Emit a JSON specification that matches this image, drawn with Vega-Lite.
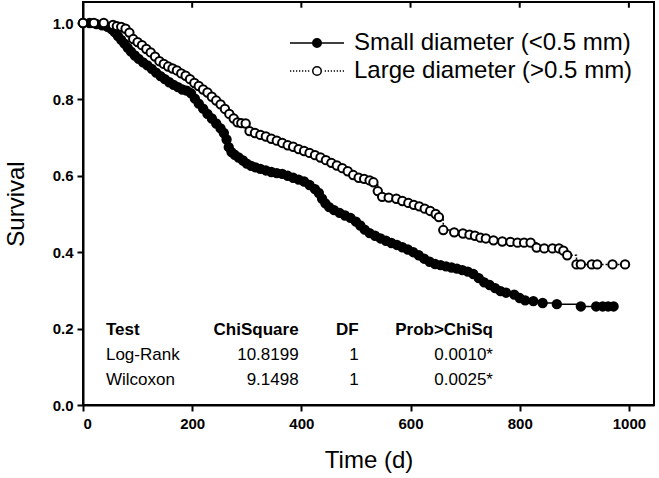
{
  "$schema": "https://vega.github.io/schema/vega-lite/v6.json",
  "width": 571,
  "height": 403,
  "autosize": {"type": "none"},
  "padding": {"left": 83, "top": 2, "right": 5, "bottom": 73},
  "background": "white",
  "config": {
    "view": {"stroke": "black", "strokeWidth": 2},
    "font": "Liberation Sans",
    "axis": {
      "grid": false,
      "domainColor": "black",
      "domainWidth": 2,
      "tickColor": "black",
      "tickWidth": 2,
      "tickSize": 6,
      "labelFont": "Liberation Sans",
      "labelFontWeight": "bold",
      "labelFontSize": 15,
      "labelColor": "black",
      "titleFont": "Liberation Sans",
      "titleFontWeight": "normal",
      "titleFontSize": 24,
      "titleColor": "black"
    }
  },
  "datasets": {
    "km": [
      {"group":"S","time":0,"surv":1.0},{"group":"S","time":12,"surv":1.0},{"group":"S","time":25,"surv":0.997},{"group":"S","time":35,"surv":0.994},{"group":"S","time":45,"surv":0.99},{"group":"S","time":52,"surv":0.984},{"group":"S","time":58,"surv":0.976},{"group":"S","time":64,"surv":0.966},{"group":"S","time":70,"surv":0.956},{"group":"S","time":76,"surv":0.946},{"group":"S","time":82,"surv":0.935},{"group":"S","time":88,"surv":0.925},{"group":"S","time":95,"surv":0.915},{"group":"S","time":102,"surv":0.906},{"group":"S","time":110,"surv":0.897},{"group":"S","time":118,"surv":0.889},{"group":"S","time":126,"surv":0.88},{"group":"S","time":134,"surv":0.87},{"group":"S","time":142,"surv":0.861},{"group":"S","time":150,"surv":0.853},{"group":"S","time":158,"surv":0.845},{"group":"S","time":166,"surv":0.838},{"group":"S","time":174,"surv":0.832},{"group":"S","time":182,"surv":0.826},{"group":"S","time":190,"surv":0.823},{"group":"S","time":198,"surv":0.816},{"group":"S","time":205,"surv":0.802},{"group":"S","time":212,"surv":0.789},{"group":"S","time":220,"surv":0.776},{"group":"S","time":228,"surv":0.762},{"group":"S","time":236,"surv":0.75},{"group":"S","time":244,"surv":0.737},{"group":"S","time":252,"surv":0.724},{"group":"S","time":258,"surv":0.712},{"group":"S","time":263,"surv":0.695},{"group":"S","time":267,"surv":0.675},{"group":"S","time":272,"surv":0.662},{"group":"S","time":278,"surv":0.655},{"group":"S","time":285,"surv":0.648},{"group":"S","time":293,"surv":0.64},{"group":"S","time":300,"surv":0.632},{"group":"S","time":308,"surv":0.626},{"group":"S","time":316,"surv":0.622},{"group":"S","time":325,"surv":0.618},{"group":"S","time":335,"surv":0.614},{"group":"S","time":345,"surv":0.61},{"group":"S","time":355,"surv":0.607},{"group":"S","time":365,"surv":0.605},{"group":"S","time":375,"surv":0.6},{"group":"S","time":385,"surv":0.595},{"group":"S","time":395,"surv":0.59},{"group":"S","time":405,"surv":0.585},{"group":"S","time":415,"surv":0.576},{"group":"S","time":425,"surv":0.565},{"group":"S","time":432,"surv":0.555},{"group":"S","time":438,"surv":0.54},{"group":"S","time":444,"surv":0.528},{"group":"S","time":451,"surv":0.518},{"group":"S","time":460,"surv":0.51},{"group":"S","time":470,"surv":0.503},{"group":"S","time":480,"surv":0.496},{"group":"S","time":490,"surv":0.49},{"group":"S","time":500,"surv":0.48},{"group":"S","time":508,"surv":0.47},{"group":"S","time":516,"surv":0.459},{"group":"S","time":525,"surv":0.45},{"group":"S","time":535,"surv":0.443},{"group":"S","time":545,"surv":0.436},{"group":"S","time":555,"surv":0.43},{"group":"S","time":565,"surv":0.424},{"group":"S","time":575,"surv":0.419},{"group":"S","time":585,"surv":0.413},{"group":"S","time":595,"surv":0.407},{"group":"S","time":605,"surv":0.4},{"group":"S","time":615,"surv":0.392},{"group":"S","time":625,"surv":0.383},{"group":"S","time":635,"surv":0.375},{"group":"S","time":645,"surv":0.369},{"group":"S","time":655,"surv":0.366},{"group":"S","time":665,"surv":0.363},{"group":"S","time":675,"surv":0.36},{"group":"S","time":685,"surv":0.357},{"group":"S","time":695,"surv":0.353},{"group":"S","time":705,"surv":0.349},{"group":"S","time":715,"surv":0.343},{"group":"S","time":725,"surv":0.332},{"group":"S","time":735,"surv":0.321},{"group":"S","time":745,"surv":0.314},{"group":"S","time":755,"surv":0.306},{"group":"S","time":765,"surv":0.298},{"group":"S","time":775,"surv":0.294},{"group":"S","time":790,"surv":0.289},{"group":"S","time":800,"surv":0.28},{"group":"S","time":810,"surv":0.274},{"group":"S","time":825,"surv":0.272},{"group":"S","time":842,"surv":0.267},{"group":"S","time":868,"surv":0.264},{"group":"S","time":912,"surv":0.258},{"group":"S","time":940,"surv":0.258},{"group":"S","time":952,"surv":0.258},{"group":"S","time":962,"surv":0.258},{"group":"S","time":972,"surv":0.258},
      {"group":"L","time":0,"surv":1.0},{"group":"L","time":20,"surv":1.0},{"group":"L","time":38,"surv":1.0},{"group":"L","time":55,"surv":0.995},{"group":"L","time":62,"surv":0.992},{"group":"L","time":70,"surv":0.99},{"group":"L","time":78,"surv":0.985},{"group":"L","time":85,"surv":0.975},{"group":"L","time":92,"surv":0.958},{"group":"L","time":100,"surv":0.95},{"group":"L","time":108,"surv":0.942},{"group":"L","time":116,"surv":0.932},{"group":"L","time":124,"surv":0.923},{"group":"L","time":132,"surv":0.912},{"group":"L","time":140,"surv":0.9},{"group":"L","time":148,"surv":0.893},{"group":"L","time":156,"surv":0.886},{"group":"L","time":164,"surv":0.881},{"group":"L","time":172,"surv":0.876},{"group":"L","time":180,"surv":0.868},{"group":"L","time":188,"surv":0.862},{"group":"L","time":196,"surv":0.853},{"group":"L","time":204,"surv":0.843},{"group":"L","time":212,"surv":0.835},{"group":"L","time":220,"surv":0.826},{"group":"L","time":228,"surv":0.818},{"group":"L","time":236,"surv":0.807},{"group":"L","time":244,"surv":0.797},{"group":"L","time":252,"surv":0.787},{"group":"L","time":260,"surv":0.775},{"group":"L","time":268,"surv":0.762},{"group":"L","time":276,"surv":0.75},{"group":"L","time":283,"surv":0.74},{"group":"L","time":290,"surv":0.738},{"group":"L","time":298,"surv":0.737},{"group":"L","time":305,"surv":0.717},{"group":"L","time":315,"surv":0.712},{"group":"L","time":325,"surv":0.707},{"group":"L","time":335,"surv":0.703},{"group":"L","time":345,"surv":0.697},{"group":"L","time":355,"surv":0.692},{"group":"L","time":365,"surv":0.686},{"group":"L","time":375,"surv":0.68},{"group":"L","time":385,"surv":0.676},{"group":"L","time":395,"surv":0.67},{"group":"L","time":405,"surv":0.665},{"group":"L","time":415,"surv":0.66},{"group":"L","time":425,"surv":0.654},{"group":"L","time":435,"surv":0.648},{"group":"L","time":445,"surv":0.641},{"group":"L","time":455,"surv":0.634},{"group":"L","time":465,"surv":0.627},{"group":"L","time":475,"surv":0.62},{"group":"L","time":485,"surv":0.612},{"group":"L","time":495,"surv":0.602},{"group":"L","time":505,"surv":0.595},{"group":"L","time":515,"surv":0.592},{"group":"L","time":525,"surv":0.588},{"group":"L","time":532,"surv":0.583},{"group":"L","time":540,"surv":0.56},{"group":"L","time":548,"surv":0.545},{"group":"L","time":560,"surv":0.543},{"group":"L","time":574,"surv":0.54},{"group":"L","time":585,"surv":0.534},{"group":"L","time":596,"surv":0.529},{"group":"L","time":606,"surv":0.524},{"group":"L","time":616,"surv":0.52},{"group":"L","time":626,"surv":0.514},{"group":"L","time":636,"surv":0.508},{"group":"L","time":646,"surv":0.5},{"group":"L","time":652,"surv":0.492},{"group":"L","time":660,"surv":0.458},{"group":"L","time":680,"surv":0.452},{"group":"L","time":696,"surv":0.449},{"group":"L","time":708,"surv":0.446},{"group":"L","time":718,"surv":0.443},{"group":"L","time":728,"surv":0.438},{"group":"L","time":738,"surv":0.436},{"group":"L","time":752,"surv":0.431},{"group":"L","time":768,"surv":0.428},{"group":"L","time":783,"surv":0.427},{"group":"L","time":796,"surv":0.425},{"group":"L","time":808,"surv":0.425},{"group":"L","time":820,"surv":0.425},{"group":"L","time":831,"surv":0.412},{"group":"L","time":845,"surv":0.41},{"group":"L","time":860,"surv":0.41},{"group":"L","time":872,"surv":0.41},{"group":"L","time":880,"surv":0.404},{"group":"L","time":887,"surv":0.392},{"group":"L","time":904,"surv":0.368},{"group":"L","time":912,"surv":0.368},{"group":"L","time":932,"surv":0.368},{"group":"L","time":942,"surv":0.368},{"group":"L","time":970,"surv":0.368},{"group":"L","time":993,"surv":0.368}
    ]
  },
  "layer": [
    {
      "data": {"name": "km"},
      "mark": {"type": "line", "interpolate": "step-after", "color": "black", "strokeWidth": 1.5},
      "encoding": {
        "x": {"field": "time", "type": "quantitative", "scale": {"domain": [0, 1046], "nice": false, "zero": false},
              "axis": {"values": [0, 200, 400, 600, 800, 1000], "format": "d", "title": "Time (d)", "labelPadding": 5, "titlePadding": 17}},
        "y": {"field": "surv", "type": "quantitative", "scale": {"domain": [0, 1.055], "nice": false},
              "axis": {"values": [0, 0.2, 0.4, 0.6, 0.8, 1.0], "format": ".1f", "title": "Survival", "labelPadding": 4, "titlePadding": 24}},
        "strokeDash": {"field": "group", "type": "nominal", "scale": {"domain": ["L", "S"], "range": [[2, 2], [1, 0]]}, "legend": null}
      }
    },
    {
      "data": {"values": [{"tick": 200}, {"tick": 400}, {"tick": 600}, {"tick": 800}, {"tick": 1000}]},
      "mark": {"type": "rule", "color": "black", "strokeWidth": 2},
      "encoding": {
        "x": {"field": "tick", "type": "quantitative"},
        "y": {"datum": 1.055},
        "y2": {"datum": 1.04}
      }
    },
    {
      "data": {"name": "km"},
      "mark": {"type": "point", "shape": "circle", "filled": true, "stroke": "black", "strokeWidth": 2, "size": 70, "opacity": 1},
      "encoding": {
        "x": {"field": "time", "type": "quantitative"},
        "y": {"field": "surv", "type": "quantitative"},
        "fill": {"field": "group", "type": "nominal", "scale": {"domain": ["S", "L"], "range": ["black", "white"]}}
      }
    },
    {
      "data": {"name": "km"},
      "mark": {"type": "point", "filled": true, "opacity": 0, "stroke": "black"},
      "encoding": {
        "x": {"field": "time", "type": "quantitative"},
        "y": {"field": "surv", "type": "quantitative"},
        "shape": {"field": "group", "type": "nominal",
                  "scale": {"domain": ["S", "L"], "range": [
                    "M-5.4,0L5.4,0M0.85,0A0.85,0.85,0,1,1,-0.85,0A0.85,0.85,0,1,1,0.85,0Z",
                    "M-5.4,0h0.25M-4.8,0h0.25M-4.2,0h0.25M-3.6,0h0.25M-3,0h0.25M-2.4,0h0.25M-1.8,0h0.25M1.55,0h0.25M2.15,0h0.25M2.75,0h0.25M3.35,0h0.25M3.95,0h0.25M4.55,0h0.25M5.15,0h0.25M0.85,0A0.85,0.85,0,1,1,-0.85,0A0.85,0.85,0,1,1,0.85,0Z"
                  ]},
                  "legend": {"orient": "none", "legendX": 222, "legendY": 29, "title": null,
                             "labelExpr": "datum.label == 'S' ? 'Small diameter (<0.5 mm)' : 'Large diameter (>0.5 mm)'",
                             "labelFontSize": 24, "labelFont": "Liberation Sans", "labelColor": "black", "labelOffset": 25, "labelLimit": 400,
                             "symbolSize": 100, "rowPadding": 4, "symbolStrokeWidth": 1.5, "symbolStrokeColor": "black",
                             "encode": {"symbols": {"update": {"opacity": {"value": 1}, "stroke": {"value": "black"}, "strokeWidth": {"value": 1.5}}}}}},
        "fill": {"field": "group", "type": "nominal",
                 "legend": {"orient": "none", "legendX": 222, "legendY": 29, "title": null,
                            "labelExpr": "datum.label == 'S' ? 'Small diameter (<0.5 mm)' : 'Large diameter (>0.5 mm)'",
                            "labelFontSize": 24, "labelFont": "Liberation Sans", "labelColor": "black", "labelOffset": 25, "labelLimit": 400,
                            "symbolSize": 100, "rowPadding": 4, "symbolStrokeWidth": 1.5, "symbolStrokeColor": "black",
                            "encode": {"symbols": {"update": {"opacity": {"value": 1}, "stroke": {"value": "black"}, "strokeWidth": {"value": 1.5}}}}}}
      }
    },
    {
      "data": {"values": [{"txt": "Test", "time": 42, "surv": 0.183}]},
      "mark": {"type": "text", "align": "left", "baseline": "alphabetic", "fontSize": 17, "fontWeight": "bold", "font": "Liberation Sans", "color": "black"},
      "encoding": {"x": {"field": "time", "type": "quantitative"}, "y": {"field": "surv", "type": "quantitative"}, "text": {"field": "txt"}}
    },
    {
      "data": {"values": [{"txt": "ChiSquare", "time": 395, "surv": 0.183}, {"txt": "DF", "time": 505, "surv": 0.183}, {"txt": "Prob>ChiSq", "time": 751, "surv": 0.183}]},
      "mark": {"type": "text", "align": "right", "baseline": "alphabetic", "fontSize": 17, "fontWeight": "bold", "font": "Liberation Sans", "color": "black"},
      "encoding": {"x": {"field": "time", "type": "quantitative"}, "y": {"field": "surv", "type": "quantitative"}, "text": {"field": "txt"}}
    },
    {
      "data": {"values": [{"txt": "Log-Rank", "time": 42, "surv": 0.118}, {"txt": "Wilcoxon", "time": 42, "surv": 0.052}]},
      "mark": {"type": "text", "align": "left", "baseline": "alphabetic", "fontSize": 17, "font": "Liberation Sans", "color": "black"},
      "encoding": {"x": {"field": "time", "type": "quantitative"}, "y": {"field": "surv", "type": "quantitative"}, "text": {"field": "txt"}}
    },
    {
      "data": {"values": [{"txt": "10.8199", "time": 395, "surv": 0.118}, {"txt": "1", "time": 505, "surv": 0.118}, {"txt": "0.0010*", "time": 751, "surv": 0.118}, {"txt": "9.1498", "time": 395, "surv": 0.052}, {"txt": "1", "time": 505, "surv": 0.052}, {"txt": "0.0025*", "time": 751, "surv": 0.052}]},
      "mark": {"type": "text", "align": "right", "baseline": "alphabetic", "fontSize": 17, "font": "Liberation Sans", "color": "black"},
      "encoding": {"x": {"field": "time", "type": "quantitative"}, "y": {"field": "surv", "type": "quantitative"}, "text": {"field": "txt"}}
    }
  ]
}
